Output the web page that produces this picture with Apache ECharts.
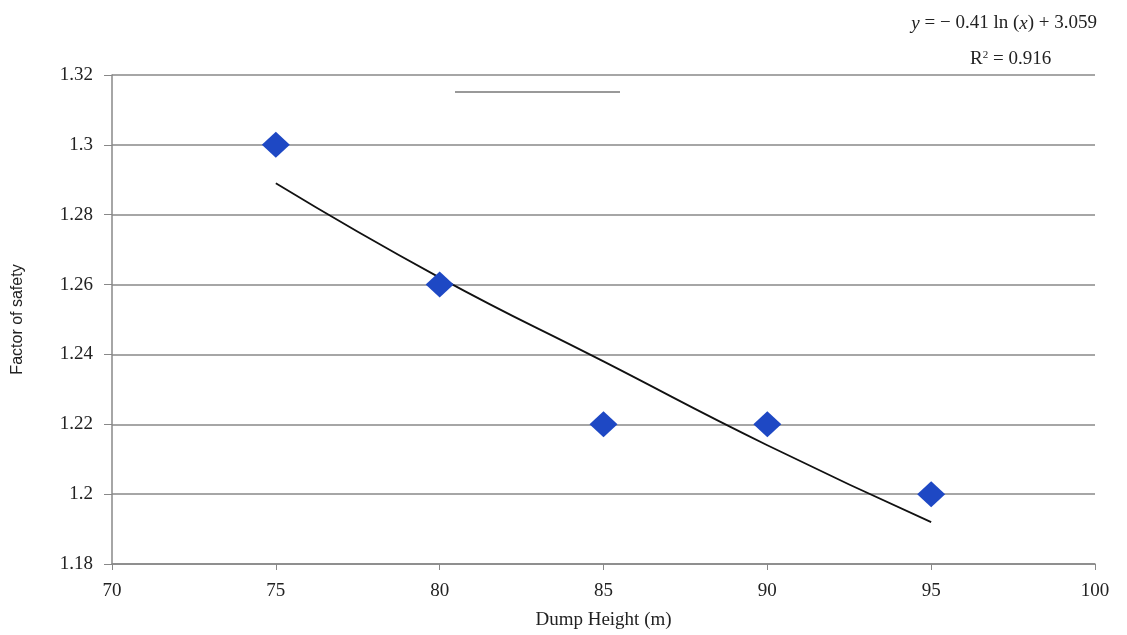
<!DOCTYPE html>
<html><head><meta charset="utf-8">
<script src="https://cdn.jsdelivr.net/npm/echarts@6/dist/echarts.min.js"></script>
<style>html,body{margin:0;padding:0;background:#fff}#c{width:1127px;height:635px}</style>
</head><body><div id="c"></div>
<script>
// Data
const dumpHeights = [75, 80, 85, 90, 95];
const factorOfSafety = [1.30, 1.26, 1.22, 1.22, 1.20];
// Trend line (log fit y = -0.41 ln(x) + 3.059), values read at sample heights
const trendHeights = [75, 80, 85, 90, 95];
const trendValues = [1.289, 1.262, 1.238, 1.214, 1.192];
const eqParts = ['y', ' = \u2212 0.41 ln (', 'x', ') + 3.059'];
const r2Text = ' = 0.916';

const chart = echarts.init(document.getElementById('c'));
const serif = '"Liberation Serif", "DejaVu Serif", serif';
const txt = '#222';
chart.setOption({
  animation: false,
  grid: { left: 112, right: 32, top: 75, bottom: 69 },
  xAxis: {
    type: 'value', min: 70, max: 100, interval: 5,
    name: 'Dump Height (m)', nameLocation: 'middle', nameGap: 47,
    nameTextStyle: { fontFamily: serif, fontSize: 19, color: txt },
    axisLine: { show: true, lineStyle: { color: '#888', width: 1.5 } },
    axisTick: { show: true, length: 6, lineStyle: { color: '#888' } },
    axisLabel: { fontFamily: serif, fontSize: 19, color: txt, margin: 18 },
    splitLine: { show: false }
  },
  yAxis: {
    type: 'value', min: 1.18, max: 1.32, interval: 0.02,
    name: 'Factor of safety', nameLocation: 'middle', nameGap: 86,
    nameTextStyle: { fontFamily: '"Liberation Sans", Arial, sans-serif', fontSize: 16, color: txt },
    axisLine: { show: true, lineStyle: { color: '#888', width: 1.5 } },
    axisTick: { show: true, length: 8, lineStyle: { color: '#888' } },
    axisLabel: { fontFamily: serif, fontSize: 19, color: txt, margin: 19 },
    splitLine: { show: true, lineStyle: { color: '#888', width: 1.5 } }
  },
  series: [
    {
      type: 'line', data: trendHeights.map((x, i) => [x, trendValues[i]]),
      showSymbol: false, smooth: true,
      lineStyle: { color: '#111', width: 1.8 }, z: 2
    },
    {
      type: 'scatter', data: dumpHeights.map((x, i) => [x, factorOfSafety[i]]),
      symbol: 'diamond', symbolSize: [28, 26],
      itemStyle: { color: '#1e48c4', opacity: 1 }, z: 3
    }
  ],
  graphic: [
    { type: 'line', shape: { x1: 455, y1: 92, x2: 620, y2: 92 }, style: { stroke: '#999', lineWidth: 2 } },
    { type: 'text', right: 30, top: 14, style: {
        text: '{i|' + eqParts[0] + '}{a|' + eqParts[1] + '}{i|' + eqParts[2] + '}{a|' + eqParts[3] + '}',
        rich: { a: { font: '19px ' + serif, fill: txt }, i: { font: 'italic 19px ' + serif, fill: txt } } } },
    { type: 'text', left: 970, top: 50, style: {
        text: '{a|R}{s|2}{a|' + r2Text + '}',
        rich: { a: { font: '19px ' + serif, fill: txt }, s: { font: '11px ' + serif, fill: txt, verticalAlign: 'top' } } } }
  ]
});
</script></body></html>
